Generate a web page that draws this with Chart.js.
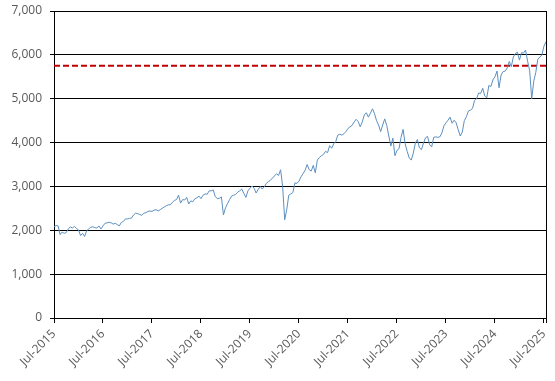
<!DOCTYPE html>
<html>
<head>
<meta charset="utf-8">
<script src="https://cdn.jsdelivr.net/npm/chart.js@4"></script>
<style>
  html, body { margin: 0; padding: 0; background: #fff; }
  #wrap { width: 555px; height: 381px; }
</style>
</head>
<body>
<div id="wrap"><canvas id="indexChart"></canvas></div>
<script>
// semi-monthly closes (1st and 15th), Jul-2015 .. Jul-2025
const startYear = 2015.5;
const closes = [
  2077, 2108, 2100, 1900, 1960, 1930, 1950, 2030, 2080, 2050, 2090, 2040,
  2010, 1880, 1930, 1860, 1990, 2030, 2070, 2080, 2060, 2050, 2100, 2030,
  2100, 2160, 2170, 2185, 2170, 2140, 2160, 2130, 2100, 2180, 2200, 2260,
  2260, 2270, 2280, 2350, 2390, 2380, 2360, 2340, 2390, 2400, 2430, 2440,
  2430, 2460, 2470, 2440, 2470, 2500, 2530, 2560, 2580, 2580, 2640, 2680,
  2700, 2800, 2620, 2700, 2690, 2750, 2600, 2670, 2650, 2720, 2740, 2780,
  2720, 2800, 2830, 2820, 2900, 2900, 2920, 2770, 2720, 2730, 2760, 2350,
  2510, 2610, 2700, 2780, 2800, 2820, 2870, 2900, 2940, 2840, 2750, 2900,
  2960, 3010, 2960, 2850, 2930, 3000, 2940, 2990, 3070, 3110, 3140, 3190,
  3240, 3290, 3250, 3380, 3000, 2240, 2470, 2800, 2830, 2860, 3080, 3070,
  3120, 3220, 3290, 3370, 3500, 3380, 3350, 3480, 3310, 3600, 3660, 3700,
  3730, 3800, 3770, 3930, 3870, 3970, 4020, 4170, 4190, 4170, 4200, 4250,
  4320, 4360, 4390, 4470, 4530, 4480, 4360, 4470, 4630, 4680, 4580, 4670,
  4770, 4660, 4500, 4400, 4250, 4400, 4540, 4390, 4150, 3920, 4100, 3700,
  3820, 3860, 4120, 4300, 3970, 3800, 3650, 3600, 3760, 3990, 4070, 3880,
  3840, 3990, 4110, 4140, 3950, 3900, 4120, 4130, 4120, 4130, 4220, 4380,
  4450, 4510, 4580, 4440, 4510, 4450, 4290, 4150, 4240, 4500, 4590, 4720,
  4740, 4780, 4960, 5000, 5130, 5120, 5240, 5060, 5020, 5300, 5280, 5430,
  5500, 5630, 5250, 5540, 5620, 5630, 5700, 5850, 5730, 5950, 6030, 6060,
  5880, 6050, 6040, 6110, 5850, 5640, 5000, 5400, 5600, 5900, 5950, 6000,
  6200, 6300
];
const targetLevel = 5750;
const tickYears = [2015, 2016, 2017, 2018, 2019, 2020, 2021, 2022, 2023, 2024, 2025];

const points = closes.map((v, i) => ({ x: startYear + i / 24, y: v }));
const lastX = startYear + (closes.length - 1) / 24;

const tickFont = { family: "'Open Sans', sans-serif", size: 12 };

// right edge of the plot box
const frameRight = {
  id: "frameRight",
  afterDatasetsDraw(chart) {
    const a = chart.chartArea;
    const c = chart.ctx;
    c.save();
    c.strokeStyle = "#000";
    c.lineWidth = 1;
    c.beginPath();
    c.moveTo(Math.round(a.right) + 0.5, a.top);
    c.lineTo(Math.round(a.right) + 0.5, a.bottom + 5);
    c.stroke();
    c.restore();
  }
};

const ctx = document.getElementById("indexChart").getContext("2d");
new Chart(ctx, {
  type: "line",
  data: {
    datasets: [
      {
        label: "Index",
        data: points,
        borderColor: "#5b8fc0",
        borderWidth: 1,
        pointRadius: 0,
        tension: 0
      },
      {
        label: "Level",
        data: [{ x: startYear, y: targetLevel }, { x: lastX, y: targetLevel }],
        borderColor: "#c00000",
        borderWidth: 2,
        borderDash: [6, 3],
        pointRadius: 0
      }
    ]
  },
  options: {
    responsive: true,
    maintainAspectRatio: false,
    animation: false,
    layout: { padding: { top: 11, right: 9, left: 0, bottom: 0 } },
    plugins: { legend: { display: false }, tooltip: { enabled: false } },
    scales: {
      x: {
        type: "linear",
        min: startYear,
        max: lastX,
        afterBuildTicks: axis => {
          axis.ticks = tickYears.map(y => ({ value: y + 0.5 }));
        },
        ticks: {
          callback: v => "Jul-" + Math.floor(v),
          maxRotation: 45,
          minRotation: 45,
          padding: 4,
          color: "#595959",
          font: tickFont
        },
        grid: {
          drawOnChartArea: false,
          tickColor: "#000",
          tickLength: 5,
          lineWidth: 1
        },
        border: { color: "#000", width: 1 },
        afterFit: s => { s.height = 63; s.paddingLeft = 0; s.paddingRight = 0; }
      },
      y: {
        min: 0,
        max: 7000,
        ticks: {
          stepSize: 1000,
          padding: 8,
          color: "#595959",
          font: tickFont,
          callback: v => v.toLocaleString("en-US")
        },
        grid: { color: "#000", tickColor: "#000", tickLength: 4, lineWidth: 1 },
        border: { color: "#000", width: 1 },
        afterFit: s => { s.width = 54; s.paddingTop = 0; s.paddingBottom = 0; }
      }
    }
  },
  plugins: [frameRight]
});
</script>
</body>
</html>
